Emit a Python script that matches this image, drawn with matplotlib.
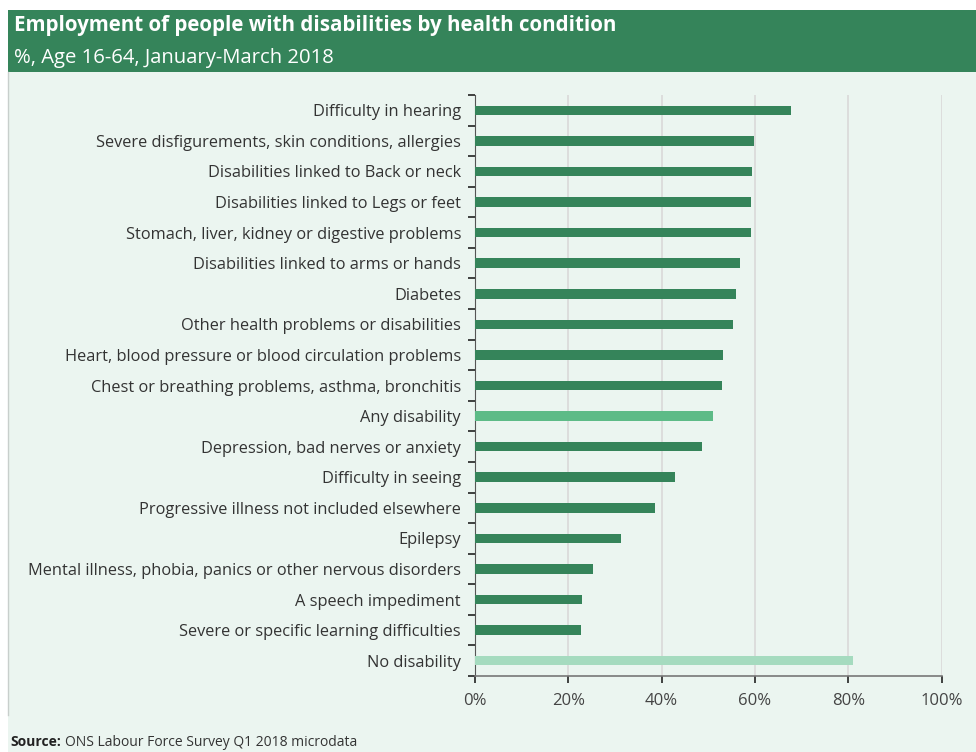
import numpy as np
import matplotlib.pyplot as plt
from matplotlib.patches import Rectangle
from matplotlib.ticker import FuncFormatter

plt.rcParams['font.family'] = ['Open Sans', 'DejaVu Sans']

categories = [
    'Difficulty in hearing',
    'Severe disfigurements, skin conditions, allergies',
    'Disabilities linked to Back or neck',
    'Disabilities linked to Legs or feet',
    'Stomach, liver, kidney or digestive problems',
    'Disabilities linked to arms or hands',
    'Diabetes',
    'Other health problems or disabilities',
    'Heart, blood pressure or blood circulation problems',
    'Chest or breathing problems, asthma, bronchitis',
    'Any disability',
    'Depression, bad nerves or anxiety',
    'Difficulty in seeing',
    'Progressive illness not included elsewhere',
    'Epilepsy',
    'Mental illness, phobia, panics or other nervous disorders',
    'A speech impediment',
    'Severe or specific learning difficulties',
    'No disability',
]
values = [67.8, 59.9, 59.4, 59.1, 59.1, 56.9, 56.0, 55.2, 53.2, 52.9,
          51.0, 48.6, 42.8, 38.5, 31.4, 25.2, 23.0, 22.7, 81.1]
x_ticks = [0, 20, 40, 60, 80, 100]

dark = '#35845a'
colors = [dark] * len(values)
colors[categories.index('Any disability')] = '#5dbb87'
colors[categories.index('No disability')] = '#a5dbbf'

bg = '#ebf5f0'
W, H = 976, 752
fig = plt.figure(figsize=(W / 100, H / 100), dpi=100)
fig.patch.set_facecolor('white')

# mint panel and green header band
fig.add_artist(Rectangle((8 / W, 0), 1, 1 - 72 / H, transform=fig.transFigure,
                         facecolor=bg, edgecolor='none', zorder=0))
fig.add_artist(Rectangle((8 / W, 1 - 72 / H), 1, 62 / H, transform=fig.transFigure,
                         facecolor='#35845a', edgecolor='none', zorder=0))
fig.add_artist(plt.Line2D([8 / W, 8 / W], [1 - 715 / H, 1 - 72 / H],
                          transform=fig.transFigure, color='#c8cfcc', lw=1))

fig.text(14 / W, 1 - 26 / H, 'Employment of people with disabilities by health condition',
         color='white', fontsize=14.8, fontweight='bold', va='center', ha='left')
fig.text(14 / W, 1 - 58 / H, '%, Age 16-64, January-March 2018',
         color='white', fontsize=14.6, va='center', ha='left')

src = fig.text(10 / W, 1 - 742 / H, 'Source:', color='#222222', fontsize=10,
               fontweight='bold', va='center', ha='left')
fig.canvas.draw()
bb = src.get_window_extent()
fig.text((bb.x1 + 4) / W, 1 - 742 / H, 'ONS Labour Force Survey Q1 2018 microdata',
         color='#333333', fontsize=10, va='center', ha='left')

ax = fig.add_axes([475 / W, 76 / H, (941.5 - 475) / W, (676 - 95) / H])
ax.set_facecolor(bg)
y = np.arange(len(categories))
ax.barh(y, values, height=0.31, color=colors, zorder=3)
ax.set_ylim(len(categories) - 0.5, -0.5)
ax.set_xlim(0, 100)

ax.set_yticks(y)
ax.set_yticklabels(categories)
ax.set_yticks(np.arange(-0.5, len(categories), 1), minor=True)
ax.tick_params(axis='y', which='major', length=0, pad=10, labelsize=11.8,
               labelcolor='#333333')
ax.tick_params(axis='y', which='minor', length=5, width=1.2, color='#222222')

ax.set_xticks(x_ticks)
ax.xaxis.set_major_formatter(FuncFormatter(lambda v, p: '%d%%' % v))
ax.tick_params(axis='x', length=5, width=1.2, color='#222222', labelsize=12,
               labelcolor='#444444', pad=7)
ax.grid(axis='x', color='#d9d9d9', lw=1.2, zorder=0)

for s in ['top', 'right']:
    ax.spines[s].set_visible(False)
ax.spines['left'].set_color('#555555')
ax.spines['bottom'].set_color('#777777')
ax.spines['bottom'].set_linewidth(1.2)

fig.savefig('out.png', dpi=100)
